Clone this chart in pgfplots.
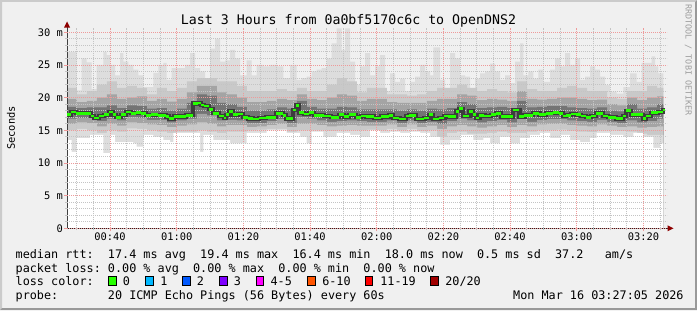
\documentclass[border=0pt]{standalone}
\usepackage{pgfplots}
\pgfplotsset{compat=1.18}
\usepackage{pgfplotstable}
\usepackage{fontspec}
\setmainfont{DejaVu Sans Mono}
\newfontfamily\rrd{DejaVu Sans Mono}
\newcommand\legfont{\rrd\fontsize{11.79bp}{14bp}\selectfont}
\newcommand\tickfont{\rrd\fontsize{10.4bp}{12bp}\selectfont}
\newcommand\titlefont{\rrd\fontsize{13.25bp}{15bp}\selectfont}
\newcommand\wmfont{\rrd\fontsize{8.4bp}{10bp}\selectfont}
\definecolor{bgc}{HTML}{F0F0F0}
\definecolor{shadeA}{HTML}{CBCBCB}
\definecolor{shadeB}{HTML}{999999}
\definecolor{gridc}{HTML}{C4C4C4}
\definecolor{mgridc}{HTML}{EE9A9A}
\definecolor{arrowc}{HTML}{8E0000}
\definecolor{s1}{HTML}{DDDDDD}
\definecolor{s2}{HTML}{C9C9C9}
\definecolor{s3}{HTML}{A4A4A4}
\definecolor{s4}{HTML}{747474}
\definecolor{core}{HTML}{3C3C3C}
\definecolor{lc0}{HTML}{26FF00}
\definecolor{lc1}{HTML}{00B8FF}
\definecolor{lc2}{HTML}{0059FF}
\definecolor{lc3}{HTML}{7E00FF}
\definecolor{lc4}{HTML}{FF00FF}
\definecolor{lc6}{HTML}{FF5500}
\definecolor{lc11}{HTML}{FF0000}
\definecolor{lc20}{HTML}{A10000}

% time in minutes after midnight, values in ms
\pgfplotstableread{
t v
27.08 27.0
30.0 21.1
31.5 26.0
33.0 25.4
34.5 21.3
36.0 25.0
38.0 27.0
39.0 26.5
40.0 25.0
41.5 23.4
43.0 26.8
44.0 25.5
45.5 25.0
47.0 24.3
48.5 23.4
50.0 21.6
53.0 23.8
54.5 25.0
56.0 25.3
57.0 22.7
58.5 24.5
62.5 25.0
64.0 26.8
65.5 24.5
67.0 24.0
68.5 22.7
70.0 27.5
71.5 29.0
73.0 25.5
74.5 25.7
76.0 27.3
77.5 26.0
79.0 23.4
81.0 25.7
82.5 23.4
84.0 25.0
86.0 24.8
88.0 25.0
90.0 24.8
92.0 23.0
94.0 25.0
96.0 22.7
97.5 23.0
99.0 23.2
100.5 24.0
102.0 24.3
103.5 24.5
105.0 26.0
106.5 28.3
108.0 30.6
109.5 27.3
110.5 30.6
112.0 25.5
113.5 22.0
115.0 24.8
116.5 26.8
118.0 23.4
119.5 24.8
121.0 26.5
122.5 21.0
124.0 23.7
125.5 22.4
127.0 22.9
128.5 21.0
130.0 22.4
131.5 23.2
133.0 25.0
134.5 24.0
136.0 23.4
137.0 27.7
139.0 22.7
140.5 21.0
142.0 26.8
143.5 26.0
145.0 23.4
146.5 23.2
148.0 21.3
149.5 22.9
151.0 23.7
152.5 24.0
154.0 25.2
155.5 24.0
157.0 22.7
158.5 23.4
160.0 22.2
161.5 25.5
163.0 28.3
164.0 23.4
165.5 24.0
167.0 22.9
168.5 24.3
170.0 22.4
172.0 24.3
173.5 26.0
175.0 24.8
176.5 26.8
178.0 25.0
179.5 26.0
181.0 22.7
182.5 23.2
184.0 24.8
185.5 24.3
187.0 23.2
188.5 21.9
190.0 20.9
192.0 20.6
194.0 21.6
196.0 23.7
198.0 22.4
199.5 25.3
201.0 25.3
202.5 26.3
203.5 24.8
204.5 23.7
206.0 23.7
}\maxtab

\pgfplotstableread{
t v
27.08 13.5
28.5 11.7
30.0 13.8
34.0 14.3
38.0 11.5
40.0 14.3
41.5 13.2
47.0 13.0
48.0 12.5
50.0 14.3
53.0 14.0
56.0 13.5
58.0 13.2
59.0 14.6
67.0 11.7
68.0 14.3
71.0 13.5
76.0 13.0
81.0 14.6
87.0 15.0
93.0 14.6
97.0 14.0
99.0 13.0
100.5 14.8
104.0 14.0
108.0 14.6
112.0 14.3
115.0 14.0
118.0 15.0
121.0 14.6
124.0 14.8
127.0 14.6
130.0 14.8
133.0 14.6
136.0 14.0
139.0 12.8
142.0 13.5
145.0 14.3
149.0 13.5
152.0 13.8
154.0 13.0
157.0 14.0
160.0 13.0
163.0 13.8
166.0 14.3
169.0 14.6
172.0 13.8
175.0 14.3
178.0 13.5
181.0 13.2
184.0 13.8
186.0 14.6
190.0 14.3
194.0 14.0
197.0 14.6
200.0 14.0
203.0 12.3
205.0 13.0
206.0 13.0
}\mintab

\pgfplotstableread{
t u3 u2 u1 l1 l2 l3
27.08 21.5 19.8 18.6 16.8 16.0 15.0
30.08 20.5 19.3 18.4 16.9 16.2 15.2
33.08 21.0 19.5 18.5 16.9 16.1 15.0
36.08 22.0 20.0 18.5 16.4 15.6 14.6
39.08 22.5 20.5 18.8 16.8 16.0 15.0
42.08 21.5 19.8 18.4 16.5 15.7 14.8
45.08 21.8 20.0 18.8 17.0 16.2 15.3
48.08 21.5 20.2 18.7 16.9 16.1 15.2
51.08 20.5 19.5 18.3 16.6 15.9 15.0
54.08 21.5 19.8 18.4 16.6 15.8 14.8
57.08 21.0 19.4 18.0 16.2 15.5 14.6
60.08 21.5 19.8 18.3 16.5 15.7 14.8
63.08 22.5 20.8 19.2 16.8 15.9 14.8
66.08 23.0 21.8 20.5 17.5 16.2 15.0
69.08 23.0 21.8 20.3 17.3 16.0 14.8
72.08 22.5 20.8 19.2 16.5 15.6 14.6
75.08 22.5 20.5 19.0 16.6 15.8 14.8
78.08 21.8 20.0 18.6 16.5 15.8 14.8
81.08 21.0 19.3 18.0 16.1 15.5 15.0
84.08 21.0 19.3 18.0 16.1 15.6 15.1
87.08 21.0 19.5 18.2 16.4 15.8 15.2
90.08 21.3 19.8 18.5 16.7 16.0 15.2
93.08 21.0 19.6 18.3 16.1 15.5 14.8
96.08 21.5 20.5 19.5 17.0 16.0 15.0
99.08 21.0 19.8 18.6 16.8 16.0 15.0
102.08 21.0 19.6 18.3 16.5 15.8 15.0
105.08 22.0 20.0 18.3 16.3 15.6 14.9
108.08 23.0 20.5 18.6 16.4 15.7 15.0
111.08 22.5 20.3 18.5 16.5 15.8 15.0
114.08 20.8 19.5 18.2 16.4 15.7 15.0
117.08 21.5 19.8 18.2 16.3 15.7 15.1
120.08 21.5 19.8 18.2 16.3 15.7 15.0
123.08 20.5 19.3 18.2 16.5 15.9 15.2
126.08 20.5 19.2 18.0 16.1 15.5 15.0
129.08 20.3 19.2 18.2 16.5 15.9 15.2
132.08 20.5 19.2 18.0 16.1 15.5 14.9
135.08 21.0 19.5 18.3 16.3 15.7 15.0
138.08 21.5 19.8 18.2 16.0 15.2 14.0
141.08 21.5 19.8 18.4 16.4 15.6 14.6
144.08 22.0 20.5 19.3 16.8 15.8 14.8
147.08 21.5 20.3 19.0 16.5 15.6 14.5
150.08 21.0 19.6 18.4 16.2 15.4 14.5
153.08 21.3 19.8 18.5 16.4 15.6 14.6
156.08 21.0 19.7 18.6 16.6 15.8 14.8
159.08 20.8 19.5 18.4 16.2 15.5 14.6
162.08 22.5 21.0 19.5 16.8 15.8 14.6
165.08 21.3 19.8 18.5 16.3 15.6 14.8
168.08 21.0 19.7 18.6 16.6 15.9 15.0
171.08 21.0 19.8 18.7 16.7 16.0 15.0
174.08 21.5 20.0 18.7 16.7 16.0 15.1
177.08 21.8 20.0 18.5 16.5 15.8 14.9
180.08 21.5 19.8 18.4 16.4 15.7 14.8
183.08 21.0 19.6 18.3 16.3 15.6 14.7
186.08 21.0 19.7 18.5 16.6 15.9 15.0
189.08 20.0 19.0 18.0 16.3 15.7 15.0
192.08 19.8 18.8 17.9 16.1 15.5 14.9
195.08 21.0 20.0 19.0 16.5 15.6 14.8
198.08 21.0 19.6 18.3 16.2 15.4 14.5
201.08 21.8 20.0 18.5 16.4 15.5 14.3
204.08 21.5 20.2 19.0 16.8 15.6 14.3
206.0 21.5 20.2 19.0 16.8 15.6 14.3
}\bandtab

\pgfplotstableread{
t v
27.08 17.4
28.3 17.8
29.8 17.6
34.3 17.2
35.3 16.9
36.8 17.2
38.3 17.4
39.8 17.8
40.8 17.4
41.8 17.0
43.3 17.4
44.8 17.8
46.3 17.6
47.8 17.7
49.3 17.6
50.8 17.3
52.3 17.4
54.3 17.3
56.8 17.1
57.8 16.8
59.3 17.1
62.8 17.3
64.8 19.1
66.3 19.2
67.3 18.9
68.3 18.7
69.8 18.2
70.8 17.6
72.8 17.2
74.3 16.9
74.8 17.4
75.8 17.9
76.8 17.4
78.3 17.5
79.8 17.0
81.3 16.8
82.8 16.7
84.8 16.9
86.8 17.0
89.8 17.6
91.8 17.3
92.8 16.8
94.8 18.1
95.8 18.8
96.8 17.7
98.3 17.5
99.8 17.7
101.3 17.3
104.3 17.2
106.3 17.0
108.8 17.4
110.3 17.1
111.8 17.4
113.8 17.0
115.3 17.2
116.8 17.1
119.3 16.9
121.3 17.1
123.8 17.3
124.8 16.9
126.8 16.7
128.8 17.2
129.8 17.3
131.8 16.7
134.3 16.9
135.8 17.4
136.8 16.7
138.8 16.9
140.3 17.2
141.3 17.1
143.8 17.9
144.8 18.3
145.8 17.2
147.8 17.9
148.8 17.4
149.8 16.9
150.8 17.3
152.3 17.2
154.3 17.4
155.8 17.6
157.3 17.1
160.8 18.1
162.8 17.1
164.3 17.3
166.8 17.6
168.8 17.4
170.8 17.6
172.8 17.7
174.8 17.6
175.8 17.2
176.8 17.3
178.3 17.5
179.8 17.4
181.3 17.2
182.8 17.0
184.3 17.2
185.8 17.6
187.8 17.2
189.3 17.0
191.8 16.8
193.8 17.2
194.8 18.0
196.3 17.4
199.8 16.8
200.8 17.2
202.3 17.7
204.3 17.8
205.8 18.1
206.4 18.1
}\medtab

\begin{document}
\frenchspacing
\begin{tikzpicture}[x=1bp,y=1bp]
% canvas and frame shading
\fill[bgc] (0,0) rectangle (697,310);
\fill[shadeA] (0,0) -- (0,310) -- (697,310) -- (695,308) -- (2,308) -- (2,2) -- cycle;
\fill[shadeB] (697,310) -- (697,0) -- (0,0) -- (2,2) -- (695,2) -- (695,308) -- cycle;

\begin{axis}[
  set layers=axis on top,
  at={(67bp,81.7bp)}, anchor=south west,
  scale only axis, width=600bp, height=200.6bp,
  xmin=27.083, xmax=207.083, ymin=0, ymax=30.7,
  axis background/.style={fill=white},
  axis on top,
  axis x line*=bottom, axis y line*=left,
  axis line style={draw=none},
  xtick={40,60,...,200},
  xticklabels={00:40,01:00,01:20,01:40,02:00,02:20,02:40,03:00,03:20},
  minor xtick={30,35,45,50,55,65,70,75,85,90,95,105,110,115,125,130,135,145,150,155,165,170,175,185,190,195,205},
  ytick={0,5,...,30},
  yticklabels={0,5 m,10 m,15 m,20 m,25 m,30 m},
  minor ytick={1,2,3,4,6,7,8,9,11,12,13,14,16,17,18,19,21,22,23,24,26,27,28,29},
  grid=both,
  major grid style={draw=mgridc, line width=0.8bp, dash pattern=on 1bp off 1bp},
  minor grid style={draw=gridc, line width=0.8bp, dash pattern=on 1bp off 1bp},
  tick align=outside, major tick length=3bp, minor tick length=2bp,
  major tick style={draw=mgridc, line width=0.8bp},
  minor tick style={draw=gridc, line width=0.8bp},
  ticklabel style={font=\tickfont, text=black},
  xticklabel style={inner sep=1bp},
  yticklabel style={inner sep=1bp},
  clip=true,
]
\addplot[const plot, fill=s1, draw=none] table[x=t,y=v] {\maxtab} \closedcycle;
\addplot[const plot, fill=s2, draw=none] table[x=t,y=u3] {\bandtab} \closedcycle;
\addplot[const plot, fill=s3, draw=none] table[x=t,y=u2] {\bandtab} \closedcycle;
\addplot[const plot, fill=s4, draw=none] table[x=t,y=u1] {\bandtab} \closedcycle;
\addplot[const plot, fill=s3, draw=none] table[x=t,y=l1] {\bandtab} \closedcycle;
\addplot[const plot, fill=s2, draw=none] table[x=t,y=l2] {\bandtab} \closedcycle;
\addplot[const plot, fill=s1, draw=none] table[x=t,y=l3] {\bandtab} \closedcycle;
\addplot[const plot, fill=white, draw=none] table[x=t,y=v] {\mintab} \closedcycle;
\addplot[on layer=axis foreground, const plot, draw=core, line width=4.2bp] table[x=t,y=v] {\medtab};
\addplot[on layer=axis foreground, jump mark left, draw=lc0, line width=2.6bp] table[x=t,y=v] {\medtab};
\end{axis}

% axis lines with arrows
\draw[black!85, line width=1bp] (66,81.7) -- (668,81.7);
\draw[black!75, line width=1bp] (67,80.7) -- (67,283);
\fill[arrowc] (673.5,81.7) -- (667.5,84.7) -- (667.5,78.7) -- cycle;
\fill[arrowc] (67,288.5) -- (64,282.5) -- (70,282.5) -- cycle;

% title, axis label, watermark
\node[anchor=base, inner sep=0, font=\titlefont] at (348.5,286) {Last 3 Hours from 0a0bf5170c6c to OpenDNS2};
\node[rotate=90, inner sep=0, font=\tickfont] at (11,182) {Seconds};
\node[rotate=-90, inner sep=0, font=\wmfont, text=black!38] at (688.3,250) {RRDTOOL / TOBI OETIKER};

% legend
\node[anchor=base west, inner sep=0, font=\legfont] at (15.5,51.7) {median rtt:~~17.4 ms avg~~19.4 ms max~~16.4 ms min~~18.0 ms now~~0.5 ms sd~~37.2~~~am/s};
\node[anchor=base west, inner sep=0, font=\legfont] at (15.5,38.0) {packet loss: 0.00 \% avg~~0.00 \% max~~0.00 \% min~~0.00 \% now};
\node[anchor=base west, inner sep=0, font=\legfont] at (15.5,24.3) {loss color:};
\foreach \bx/\c in {108.3/lc0, 145.7/lc1, 182.7/lc2, 219.3/lc3, 256/lc4, 307.3/lc6, 365/lc11, 430.7/lc20}{
  \filldraw[fill=\c, draw=black, line width=0.8bp] (\bx,24.6) rectangle (\bx+7.6,33.2);
}
\foreach \lx/\t in {123.3/0, 160.7/1, 197.3/2, 234.3/3, 271/4-5, 322.7/6-10, 380.7/11-19}{
  \node[anchor=base west, inner sep=0, font=\legfont] at (\lx-0.6,24.3) {\t};
}
\node[anchor=base west, inner sep=0, font=\legfont] at (445.1,24.3) {20/20};
\node[anchor=base west, inner sep=0, font=\legfont] at (15.5,10.4) {probe:~~~~~~~20 ICMP Echo Pings (56 Bytes) every 60s};
\node[anchor=base west, inner sep=0, font=\legfont] at (513,10.4) {Mon Mar 16 03:27:05 2026};
\end{tikzpicture}
\end{document}
